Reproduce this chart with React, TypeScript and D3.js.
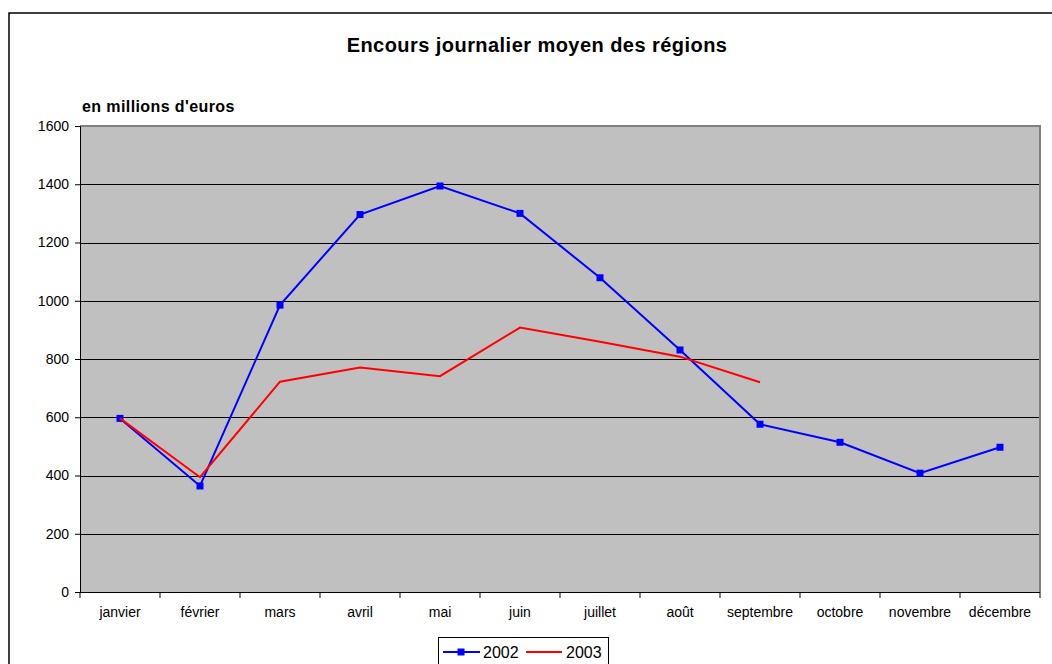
import React, { useEffect, useRef } from 'react';
import * as d3 from 'd3';

const months = [
  'janvier', 'février', 'mars', 'avril', 'mai', 'juin',
  'juillet', 'août', 'septembre', 'octobre', 'novembre', 'décembre',
];
const values2002 = [596, 364, 985, 1296, 1394, 1300, 1079, 831, 576, 514, 408, 497];
const values2003 = [596, 394, 722, 771, 741, 908, 859, 808, 720];
const yTicks = [0, 200, 400, 600, 800, 1000, 1200, 1400, 1600];

const W = 1052;
const H = 664;
const FONT = 'Liberation Sans, Arial, sans-serif';

const App = () => {
  const svgRef = useRef<SVGSVGElement | null>(null);

  useEffect(() => {
    const svg = d3.select(svgRef.current);
    svg.selectAll('*').remove();

    const plot = { left: 80, right: 1040, top: 126, bottom: 592 };

    const x = d3.scaleBand().domain(months).range([plot.left, plot.right]);
    const y = d3.scaleLinear().domain([0, 1600]).range([plot.bottom, plot.top]);
    const cx = (i: number) => (x(months[i]) as number) + x.bandwidth() / 2;

    // outer frame
    svg.append('rect')
      .attr('x', 9).attr('y', 13)
      .attr('width', W).attr('height', H)
      .attr('fill', '#fff').attr('stroke', '#000').attr('stroke-width', 1.5);

    svg.append('text')
      .attr('x', 537).attr('y', 52)
      .attr('text-anchor', 'middle')
      .attr('font-family', FONT).attr('font-weight', 'bold').attr('font-size', 20)
      .attr('letter-spacing', 0.45)
      .text('Encours journalier moyen des régions');

    svg.append('text')
      .attr('x', 82).attr('y', 112)
      .attr('font-family', FONT).attr('font-weight', 'bold').attr('font-size', 16)
      .attr('letter-spacing', 0.4)
      .text("en millions d'euros");

    // plot area
    svg.append('rect')
      .attr('x', plot.left).attr('y', plot.top)
      .attr('width', plot.right - plot.left).attr('height', plot.bottom - plot.top)
      .attr('fill', '#c0c0c0');

    // gridlines
    svg.append('g')
      .selectAll('line')
      .data(yTicks.filter((t) => t > 0 && t < 1600))
      .enter()
      .append('line')
      .attr('x1', plot.left).attr('x2', plot.right)
      .attr('y1', (d) => Math.round(y(d)) + 0.5).attr('y2', (d) => Math.round(y(d)) + 0.5)
      .attr('stroke', '#000').attr('stroke-width', 1);

    // plot border top/right
    svg.append('path')
      .attr('d', `M${plot.left},${plot.top} H${plot.right} V${plot.bottom}`)
      .attr('fill', 'none').attr('stroke', '#808080').attr('stroke-width', 2);

    // y axis
    const yAxis = svg.append('g')
      .attr('transform', `translate(${plot.left},0)`)
      .call(d3.axisLeft(y).tickValues(yTicks).tickFormat(d3.format('d')).tickSize(5).tickPadding(6));
    yAxis.select('.domain').attr('stroke', '#000');
    yAxis.selectAll('text').attr('font-family', FONT).attr('font-size', 14).attr('fill', '#000');

    // x axis with ticks on band edges
    const xAxis = svg.append('g').attr('transform', `translate(0,${plot.bottom})`);
    xAxis.append('line')
      .attr('x1', plot.left).attr('x2', plot.right)
      .attr('y1', 0.5).attr('y2', 0.5)
      .attr('stroke', '#000');
    const edges = months.map((m) => x(m) as number).concat([plot.right]);
    xAxis.selectAll('line.tick')
      .data(edges)
      .enter()
      .append('line')
      .attr('class', 'tick')
      .attr('x1', (d) => d).attr('x2', (d) => d)
      .attr('y1', 0).attr('y2', 6)
      .attr('stroke', '#000');
    xAxis.selectAll('text')
      .data(months)
      .enter()
      .append('text')
      .attr('x', (_d, i) => cx(i))
      .attr('y', 25)
      .attr('text-anchor', 'middle')
      .attr('font-family', FONT).attr('font-size', 14)
      .text((d) => d);

    const line = d3.line<number>()
      .x((_d, i) => cx(i))
      .y((d) => y(d));

    svg.append('path')
      .datum(values2002)
      .attr('d', line)
      .attr('fill', 'none').attr('stroke', '#0000ff').attr('stroke-width', 2);

    svg.append('g')
      .selectAll('rect')
      .data(values2002)
      .enter()
      .append('rect')
      .attr('x', (_d, i) => cx(i) - 3.5)
      .attr('y', (d) => y(d) - 3.5)
      .attr('width', 7).attr('height', 7)
      .attr('fill', '#0000ff');

    svg.append('path')
      .datum(values2003)
      .attr('d', line)
      .attr('fill', 'none').attr('stroke', '#ff0000').attr('stroke-width', 2);

    // legend
    const lg = svg.append('g').attr('transform', 'translate(438,637)');
    lg.append('rect')
      .attr('x', 0.5).attr('y', 0.5).attr('width', 170).attr('height', 40)
      .attr('fill', '#fff').attr('stroke', '#000').attr('stroke-width', 1);
    lg.append('line')
      .attr('x1', 5).attr('x2', 42).attr('y1', 15).attr('y2', 15)
      .attr('stroke', '#0000ff').attr('stroke-width', 2);
    lg.append('rect')
      .attr('x', 19.5).attr('y', 11.5).attr('width', 7).attr('height', 7)
      .attr('fill', '#0000ff');
    lg.append('text')
      .attr('x', 45).attr('y', 21)
      .attr('font-family', FONT).attr('font-size', 16)
      .text('2002');
    lg.append('line')
      .attr('x1', 88).attr('x2', 124).attr('y1', 15).attr('y2', 15)
      .attr('stroke', '#ff0000').attr('stroke-width', 2);
    lg.append('text')
      .attr('x', 128).attr('y', 21)
      .attr('font-family', FONT).attr('font-size', 16)
      .text('2003');
  }, []);

  return (
    <svg
      ref={svgRef}
      width={W}
      height={H}
      style={{ position: 'absolute', left: 0, top: 0, background: '#fff' }}
    />
  );
};

export default App;
